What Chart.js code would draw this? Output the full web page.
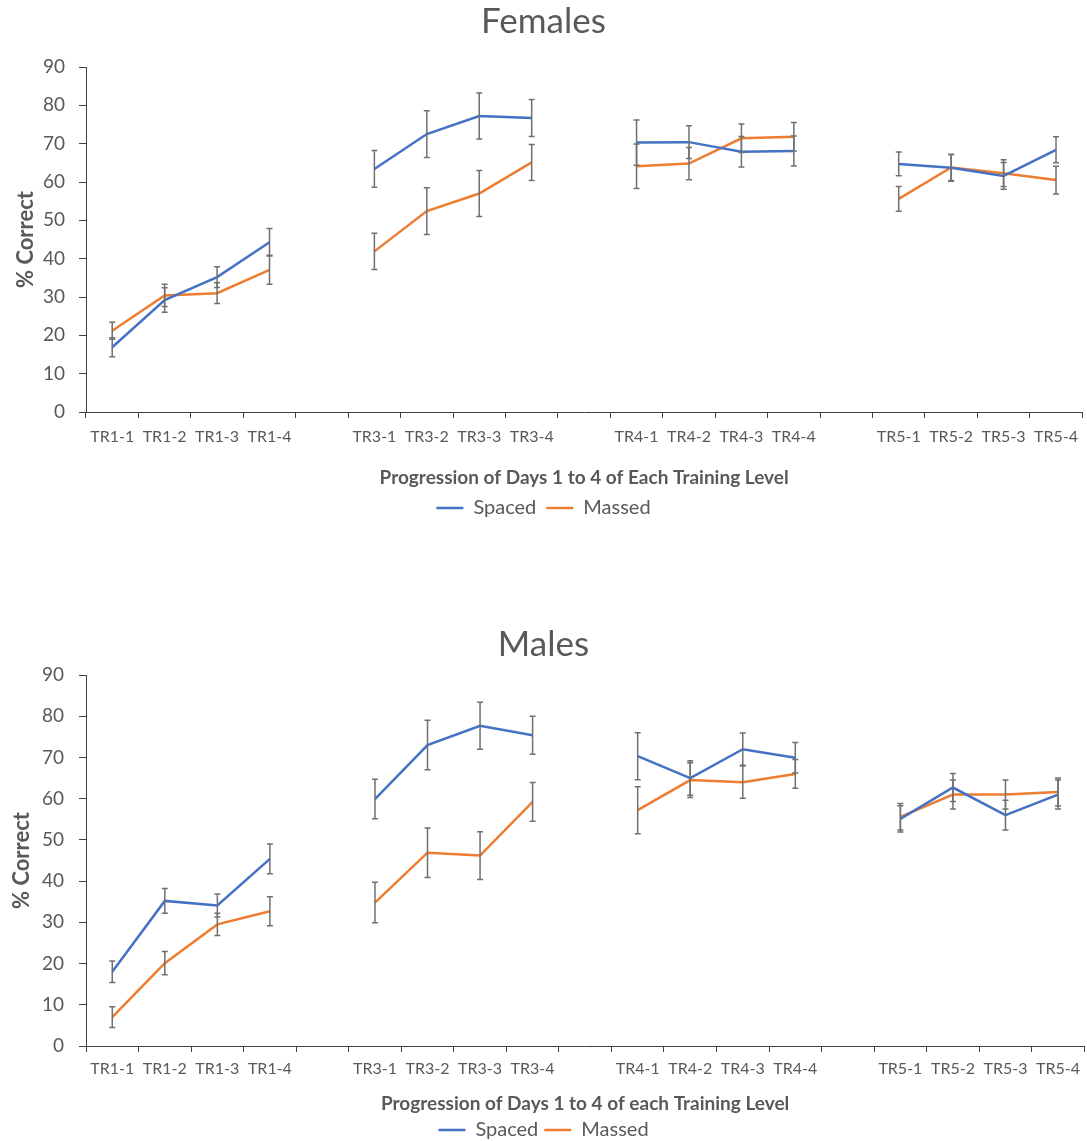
<!DOCTYPE html>
<html>
<head>
<meta charset="utf-8">
<script src="https://cdn.jsdelivr.net/npm/chart.js@4.4.0/dist/chart.umd.min.js"></script>
<style>
body{margin:0;background:#fff;overflow:hidden;width:1087px;height:1141px;position:relative}
#w1{position:absolute;left:0;top:0}
#w2{position:absolute;left:0;top:610px}
</style>
</head>
<body>
<div id="w1"><canvas id="c1" width="1087" height="530"></canvas></div>
<div id="w2"><canvas id="c2" width="1087" height="545"></canvas></div>
<script>
// categories (blank ones split the training levels)
var labels = ['TR1-1','TR1-2','TR1-3','TR1-4','',
              'TR3-1','TR3-2','TR3-3','TR3-4','',
              'TR4-1','TR4-2','TR4-3','TR4-4','',
              'TR5-1','TR5-2','TR5-3','TR5-4'];
var yTicks = [0, 10, 20, 30, 40, 50, 60, 70, 80, 90];

//Females
var femSpaced    = [16.9, 29.2, 35.2, 44.3, null, 63.4, 72.5, 77.2, 76.7, null, 70.3, 70.4, 67.9, 68.1, null, 64.7, 63.7, 61.6, 68.4];
var femSpacedErr = [2.5, 3.2, 2.7, 3.6, null, 4.8, 6.1, 6.0, 4.8, null, 5.9, 4.3, 4.0, 3.9, null, 3.1, 3.5, 3.5, 3.4];
var femMassed    = [21.2, 30.4, 31.0, 37.1, null, 41.9, 52.4, 57.0, 65.1, null, 64.1, 64.8, 71.4, 71.8, null, 55.6, 63.8, 62.3, 60.5];
var femMassedErr = [2.2, 2.9, 2.7, 3.8, null, 4.7, 6.1, 6.0, 4.7, null, 5.8, 4.2, 3.7, 3.7, null, 3.2, 3.4, 3.5, 3.6];

//Males
var maleSpaced    = [18.0, 35.2, 34.1, 45.4, null, 59.9, 73.0, 77.7, 75.4, null, 70.3, 65.0, 72.0, 69.9, null, 55.1, 62.7, 56.0, 61.0];
var maleSpacedErr = [2.6, 3.0, 2.8, 3.6, null, 4.8, 6.0, 5.7, 4.6, null, 5.7, 4.2, 3.9, 3.7, null, 3.2, 3.4, 3.6, 3.5];
var maleMassed    = [7.0, 20.1, 29.5, 32.7, null, 34.8, 46.9, 46.2, 59.2, null, 57.2, 64.5, 64.0, 66.0, null, 55.6, 61.0, 61.0, 61.6];
var maleMassedErr = [2.5, 2.8, 2.7, 3.5, null, 4.9, 6.0, 5.8, 4.7, null, 5.7, 4.2, 3.9, 3.5, null, 3.2, 3.5, 3.5, 3.4];

Chart.defaults.font.family = 'Lato';
Chart.defaults.color = '#595959';

// error bars drawn from the y scale
var errorBars = {
  id: 'errorBars',
  afterDatasetsDraw: function(chart) {
    var ctx = chart.ctx, y = chart.scales.y;
    chart.data.datasets.forEach(function(ds, i) {
      var meta = chart.getDatasetMeta(i);
      ctx.save();
      ctx.strokeStyle = '#707070';
      ctx.lineWidth = 1.5;
      meta.data.forEach(function(pt, j) {
        var v = ds.data[j], e = ds.err[j];
        if (v == null) return;
        var top = y.getPixelForValue(v + e), bot = y.getPixelForValue(v - e);
        ctx.beginPath();
        ctx.moveTo(pt.x, top); ctx.lineTo(pt.x, bot);
        ctx.moveTo(pt.x - 3, top); ctx.lineTo(pt.x + 3, top);
        ctx.moveTo(pt.x - 3, bot); ctx.lineTo(pt.x + 3, bot);
        ctx.stroke();
      });
      ctx.restore();
    });
  }
};

function drawChart(id, title, xTitle, spaced, spacedErr, massed, massedErr, lay) {
  var ctx = document.getElementById(id).getContext('2d');
  return new Chart(ctx, {
    type: 'line',
    data: {
      labels: labels,
      datasets: [{
        label: 'Spaced',
        data: spaced,
        err: spacedErr,
        borderColor: '#4472C4',
        backgroundColor: '#4472C4',
        borderWidth: 2.5,
        pointRadius: 0,
        tension: 0
      }, {
        label: 'Massed',
        data: massed,
        err: massedErr,
        borderColor: '#ED7D31',
        backgroundColor: '#ED7D31',
        borderWidth: 2.5,
        pointRadius: 0,
        tension: 0
      }]
    },
    options: {
      responsive: false,
      animation: false,
      devicePixelRatio: 1,
      layout: { padding: { left: 0, right: 0, top: 0, bottom: lay.bottom } },
      plugins: {
        title: {
          display: true,
          text: title,
          color: '#595959',
          font: { size: 35, weight: 'normal' },
          padding: { top: lay.titleTop, bottom: lay.titleBottom }
        },
        legend: {
          position: 'bottom',
          labels: {
            boxWidth: 27,
            boxHeight: 0,
            padding: lay.legendPad,
            color: '#595959',
            font: { size: 20 }
          }
        },
        tooltip: { enabled: false }
      },
      scales: {
        x: {
          offset: true,
          grid: { offset: true, drawOnChartArea: false, drawTicks: true, tickLength: 6, color: '#404040' },
          border: { color: '#404040', width: 1 },
          ticks: { autoSkip: false, maxRotation: 0, padding: lay.xTickPad, color: '#595959', font: { size: 16 } },
          title: {
            display: true,
            text: xTitle,
            color: '#595959',
            font: { size: 19, weight: 'bold', lineHeight: 1 },
            padding: { top: 0, bottom: lay.xTitleBottom }
          },
          afterFit: function(s) { s.height = lay.xHeight; }
        },
        y: {
          min: 0,
          max: 90,
          afterBuildTicks: function(s) { s.ticks = yTicks.map(function(v) { return { value: v }; }); },
          grid: { drawOnChartArea: false, drawTicks: true, tickLength: 7, color: '#404040' },
          border: { color: '#404040', width: 1 },
          ticks: { padding: lay.yTickPad, color: '#595959', font: { size: 19 } },
          title: {
            display: true,
            text: '% Correct',
            color: '#595959',
            font: { size: 22, weight: 'bold' },
            padding: { top: lay.yTitleTop, bottom: 0 }
          },
          afterFit: function(s) { s.width = 86; }
        }
      }
    },
    plugins: [errorBars]
  });
}

var chart1 = drawChart('c1', 'Females', 'Progression of Days 1 to 4 of Each Training Level',
  femSpaced, femSpacedErr, femMassed, femMassedErr,
  { titleTop: 1, titleBottom: 24, yTitleTop: 13, yTickPad: 14, xHeight: 76, xTickPad: 9, xTitleBottom: 0.5, legendPad: 10, bottom: 2 });

var chart2 = drawChart('c2', 'Males', 'Progression of Days 1 to 4 of each Training Level',
  maleSpaced, maleSpacedErr, maleMassed, maleMassedErr,
  { titleTop: 14, titleBottom: 9, yTitleTop: 9, yTickPad: 15, xHeight: 68, xTickPad: 7, xTitleBottom: 0.5, legendPad: 6, bottom: 5 });
</script>
</body>
</html>
